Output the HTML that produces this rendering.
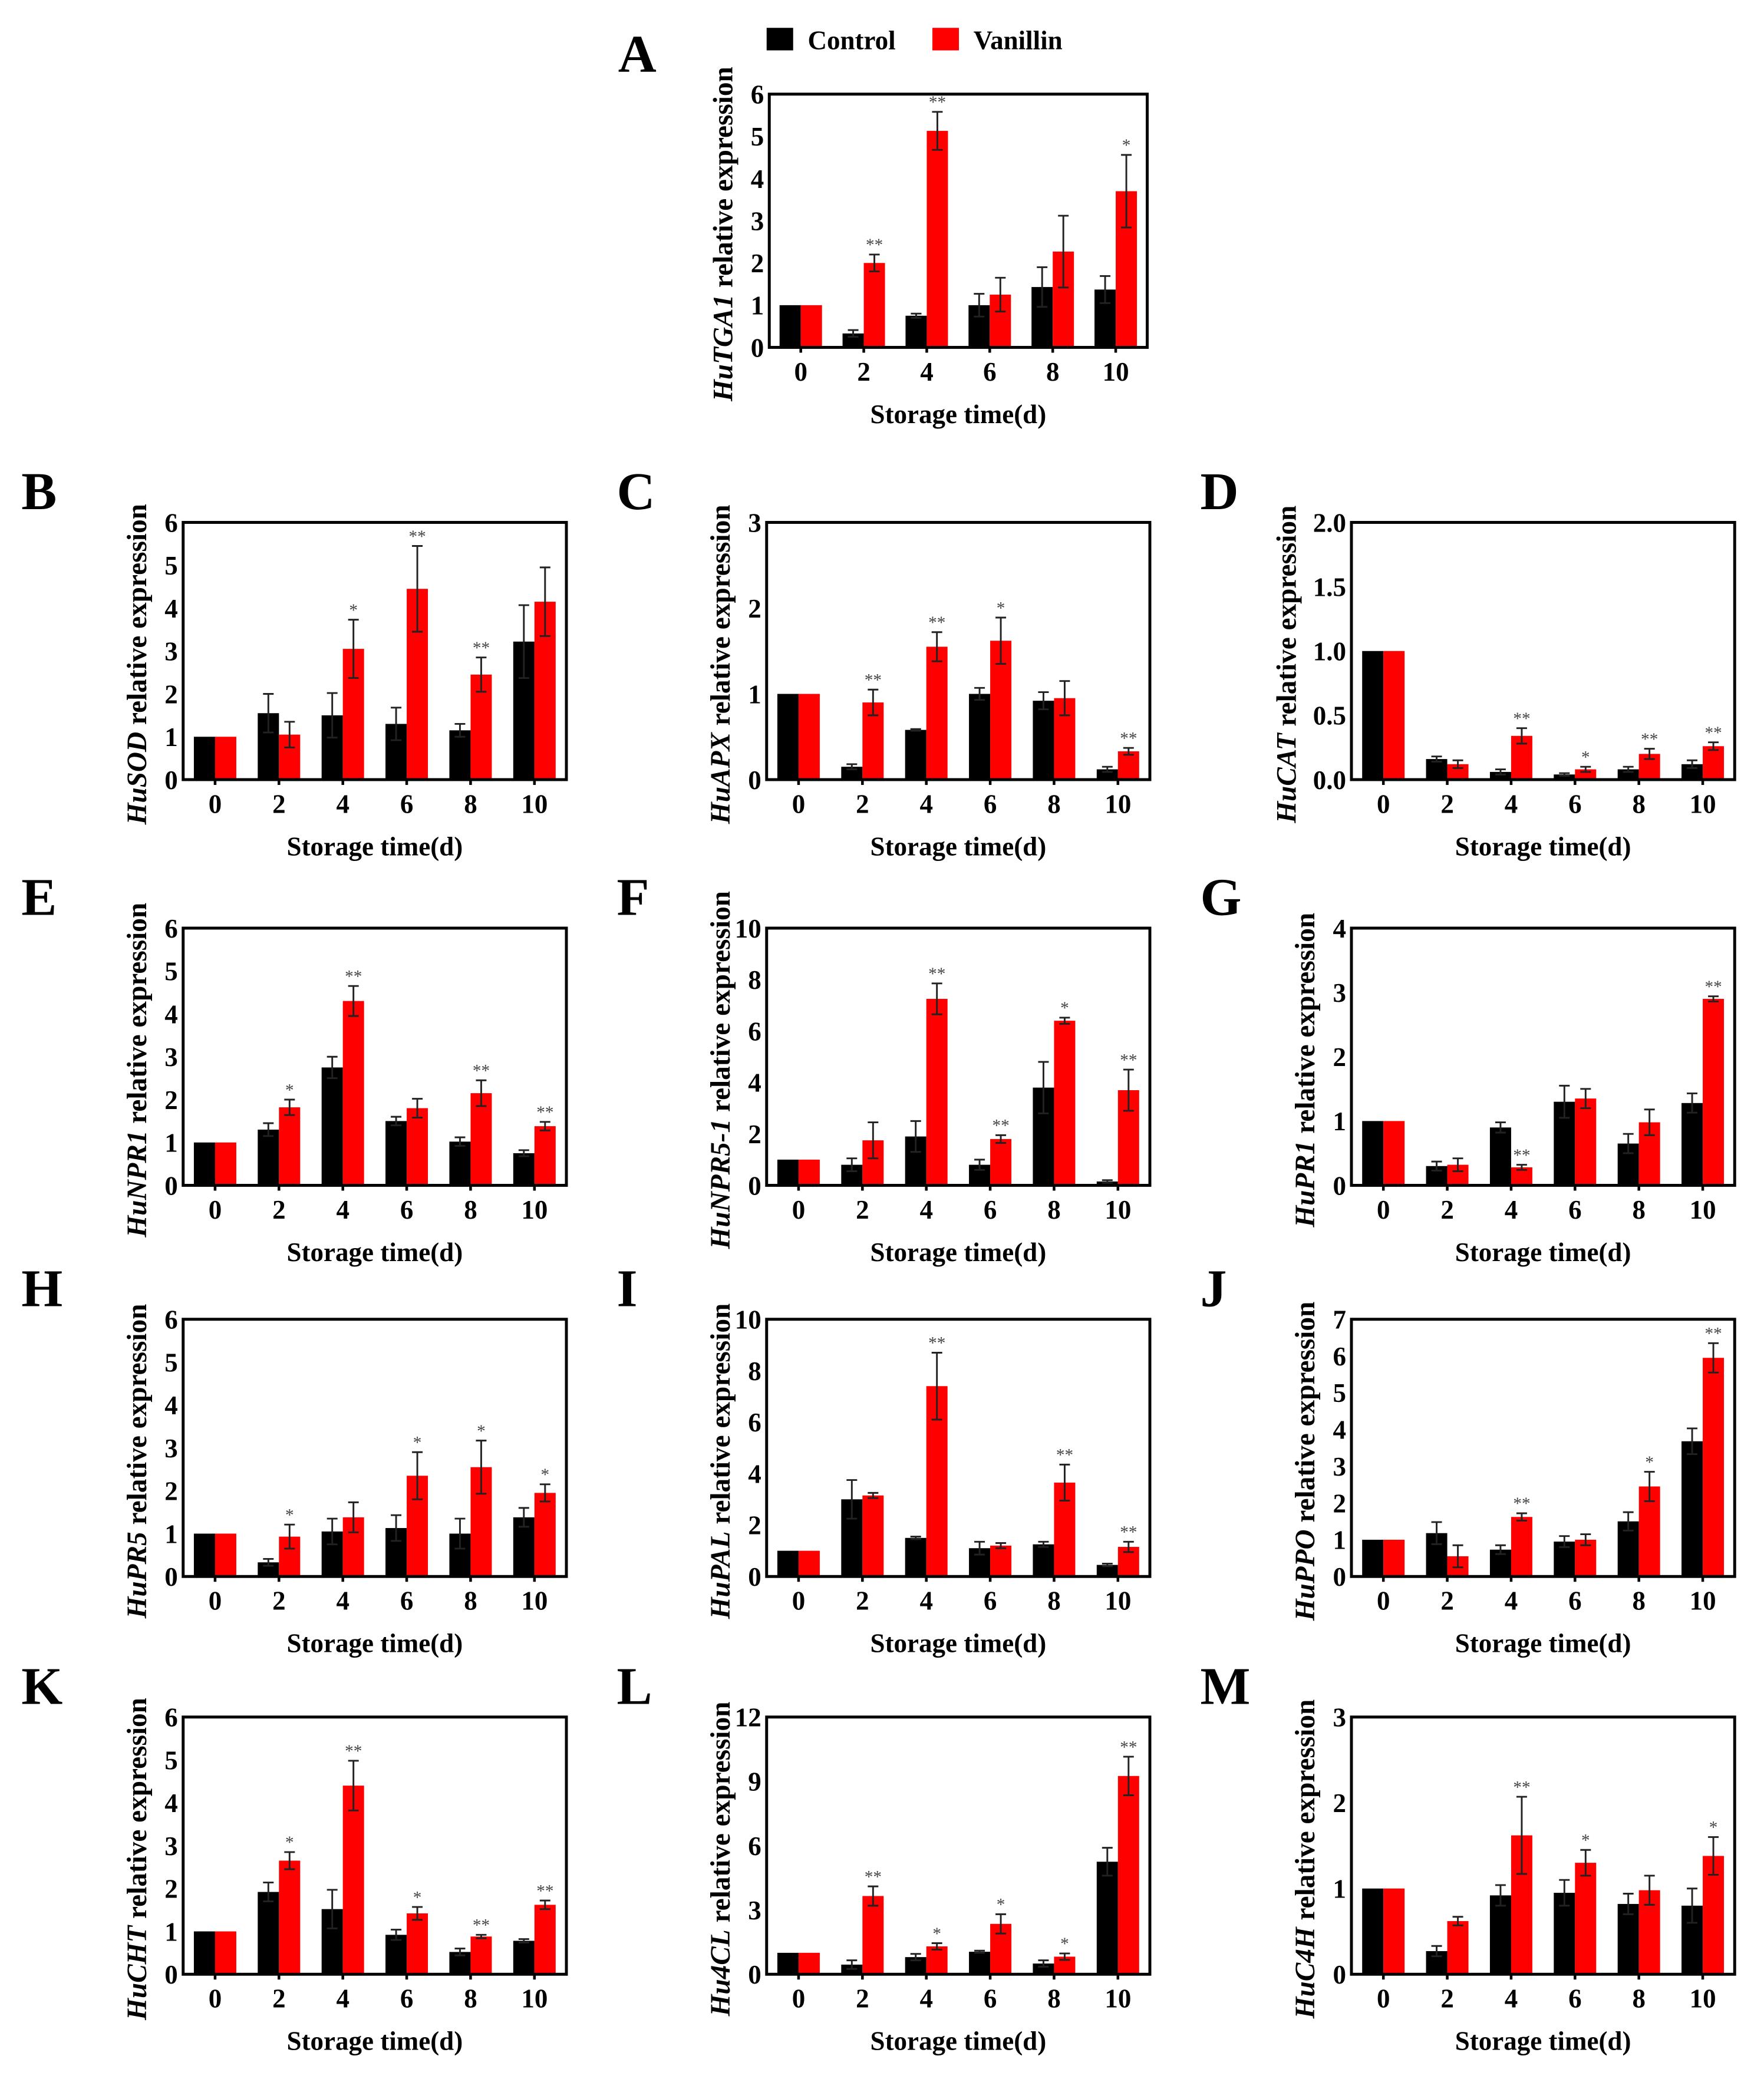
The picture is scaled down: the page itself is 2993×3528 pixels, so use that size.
<!DOCTYPE html>
<html><head><meta charset="utf-8"><style>
html,body{margin:0;padding:0;background:#fff;}
svg{display:block;font-family:"Liberation Serif",serif;font-weight:bold;}
</style></head><body>
<svg id="fig" width="2993" height="3528" viewBox="0 0 1330 1568" xmlns="http://www.w3.org/2000/svg">
<rect width="1330" height="1568" fill="#fff"/>
<g>
<rect x="578" y="21" width="20" height="17" fill="#000"/>
<text x="609" y="37" font-size="20">Control</text>
<rect x="703" y="21" width="20" height="17" fill="#f00"/>
<text x="734" y="37" font-size="20">Vanillin</text>
</g>
</svg>
<script>
const categories=["0","2","4","6","8","10"];
const panelLetters=["A","B","C","D","E","F","G","H","I","J","K","L","M"];
const genes=["HuTGA1","HuSOD","HuAPX","HuCAT","HuNPR1","HuNPR5-1 ","HuPR1","HuPR5","HuPAL","HuPPO","HuCHT","Hu4CL","HuC4H"];
const yMaxes=[6,6,3,2,6,10,4,6,10,7,6,12,3];
const yTickSteps=[1,1,1,0.5,1,2,1,1,2,1,1,3,1];
const controlValues=[
[1,0.33,0.75,1.0,1.43,1.37],[1,1.55,1.5,1.3,1.15,3.22],[1,0.15,0.58,1.0,0.92,0.12],[1,0.16,0.06,0.04,0.08,0.12],
[1,1.3,2.75,1.5,1.02,0.75],[1,0.8,1.9,0.8,3.8,0.15],[1,0.3,0.9,1.3,0.65,1.28],[1,0.33,1.05,1.13,1.0,1.38],
[1,3.0,1.5,1.1,1.25,0.45],[1,1.18,0.73,0.95,1.5,3.68],[1,1.92,1.52,0.92,0.52,0.78],[1,0.45,0.8,1.05,0.5,5.25],[1,0.27,0.92,0.95,0.82,0.8]];
const controlErrors=[
[0,0.08,0.05,0.27,0.47,0.32],[0,0.45,0.52,0.38,0.15,0.85],[0,0.03,0.01,0.07,0.1,0.03],[0,0.02,0.02,0.01,0.02,0.03],
[0,0.15,0.25,0.1,0.1,0.07],[0,0.25,0.6,0.2,1.0,0.05],[0,0.07,0.08,0.25,0.15,0.15],[0,0.08,0.3,0.3,0.35,0.22],
[0,0.75,0.05,0.25,0.1,0.05],[0,0.3,0.12,0.15,0.25,0.35],[0,0.22,0.45,0.12,0.08,0.04],[0,0.2,0.15,0.05,0.15,0.65],[0,0.06,0.12,0.15,0.12,0.2]];
const vanillinValues=[
[1,2.0,5.13,1.25,2.27,3.7],[1,1.05,3.05,4.45,2.45,4.15],[1,0.9,1.55,1.62,0.95,0.33],[1,0.12,0.34,0.08,0.2,0.26],
[1,1.82,4.3,1.8,2.15,1.38],[1,1.75,7.25,1.8,6.4,3.7],[1,0.32,0.28,1.35,0.98,2.9],[1,0.93,1.38,2.35,2.55,1.95],
[1,3.15,7.4,1.2,3.65,1.15],[1,0.55,1.62,1.0,2.45,5.95],[1,2.65,4.4,1.42,0.88,1.62],[1,3.65,1.3,2.35,0.82,9.25],[1,0.62,1.62,1.3,0.98,1.38]];
const vanillinErrors=[
[0,0.2,0.45,0.4,0.85,0.86],[0,0.3,0.68,1.0,0.4,0.8],[0,0.15,0.17,0.27,0.2,0.04],[0,0.03,0.06,0.02,0.04,0.03],
[0,0.18,0.35,0.22,0.3,0.1],[0,0.7,0.6,0.15,0.12,0.8],[0,0.1,0.04,0.15,0.2,0.04],[0,0.28,0.35,0.55,0.62,0.2],
[0,0.1,1.3,0.1,0.7,0.2],[0,0.3,0.1,0.15,0.4,0.4],[0,0.2,0.58,0.15,0.04,0.1],[0,0.45,0.15,0.45,0.15,0.9],[0,0.05,0.45,0.15,0.17,0.22]];
const significance=[
["","**","**","","","*"],["","","*","**","**",""],["","**","**","*","","**"],["","","**","*","**","**"],
["","*","**","","**","**"],["","","**","**","*","**"],["","","**","","","**"],["","*","","*","*","*"],
["","","**","","**","**"],["","","**","","*","**"],["","*","**","*","**","**"],["","**","*","*","*","**"],["","","**","*","","*"]];

const NS="http://www.w3.org/2000/svg";
const svg=document.getElementById('fig');
function mk(tag,attrs,parent){const e=document.createElementNS(NS,tag);for(const k in attrs)e.setAttribute(k,attrs[k]);parent.appendChild(e);return e;}
const colX=[138,578,1019], rowY=[394,700,995,1295];
const W=289,H=194;
const layout=[[580,71]];
for(let r=0;r<4;r++)for(let c=0;c<3;c++)layout.push([colX[c],rowY[r]]);
const letterPos=[[466,54]];
for(let r=0;r<4;r++)for(let c=0;c<3;c++)letterPos.push([[16,465,905][c],rowY[r]-10]);

for(let p=0;p<13;p++){
  const [L,T]=layout[p]; const w=(p===0?285:W);
  const B=T+(p===0?191:H);
  const g=mk('g',{},svg);
  
  
  const yMax=yMaxes[p];
  const yS=v=>B-(v/yMax)*(B-T);
  const bw=w/6; const xC=i=>L+(i+0.5)*bw; const barW=16;
  const lt=mk('text',{x:letterPos[p][0],y:letterPos[p][1],'font-size':40},g);lt.textContent=panelLetters[p];
  
  
  const step=yTickSteps[p];
  for(let v=0;v<=yMax+1e-9;v+=step){
    const t=mk('text',{x:L-4,y:yS(v)+7,'font-size':20,'text-anchor':'end'},g);
    t.textContent=(step<1?v.toFixed(1):String(Math.round(v)));
    
    
  }
  for(let i=0;i<6;i++){
    const series=[[controlValues,controlErrors,'#000',-barW],[vanillinValues,vanillinErrors,'#f00',0]];
    series.forEach(([vals,errs,col,off],s)=>{
      const v=vals[p][i],e=errs[p][i];
      const x=xC(i)+off;
      const r=mk('rect',{x:x,y:yS(v),width:barW,height:B-yS(v),fill:col},g);
      
      
      if(e>0){
        const cx=x+barW/2;
        const eb=mk('path',{d:`M${cx} ${yS(v-e)}V${yS(v+e)}M${cx-4} ${yS(v+e)}H${cx+4}M${cx-4} ${yS(v-e)}H${cx+4}`,stroke:'#222','stroke-width':1.3,fill:'none'},g);
        
        
      }
      if(s===1&&significance[p][i]){
        const st=mk('text',{x:x+barW/2,y:yS(v+e)-3,'font-size':13,'text-anchor':'middle',fill:'#444','font-weight':'normal'},g);
        st.textContent=significance[p][i];
        
        
      }
    });
    const tk=mk('line',{x1:xC(i),x2:xC(i),y1:B,y2:B+4,stroke:'#000','stroke-width':2},g);
    
    
    const xt=mk('text',{x:xC(i),y:B+25,'font-size':20,'text-anchor':'middle'},g);
    xt.textContent=categories[i];
    
    
  }
  const fr=mk('rect',{x:L,y:T,width:w,height:B-T,fill:'none',stroke:'#000','stroke-width':2.2},g);
  
  
  const xl=mk('text',{x:L+w/2,y:B+57,'font-size':20,'text-anchor':'middle'},g);
  xl.textContent='Storage time(d)';
  
  
  const off=(p===3?42:28);
  const yl=mk('text',{x:0,y:0,'font-size':21,'text-anchor':'middle',transform:`translate(${L-off},${(T+B)/2+10}) rotate(-90)`},g);
  
  
  const it=mk('tspan',{'font-style':'italic'},yl);it.textContent=genes[p];
  const rt=mk('tspan',{},yl);rt.textContent=' relative expression';
}
</script>
</body></html>
